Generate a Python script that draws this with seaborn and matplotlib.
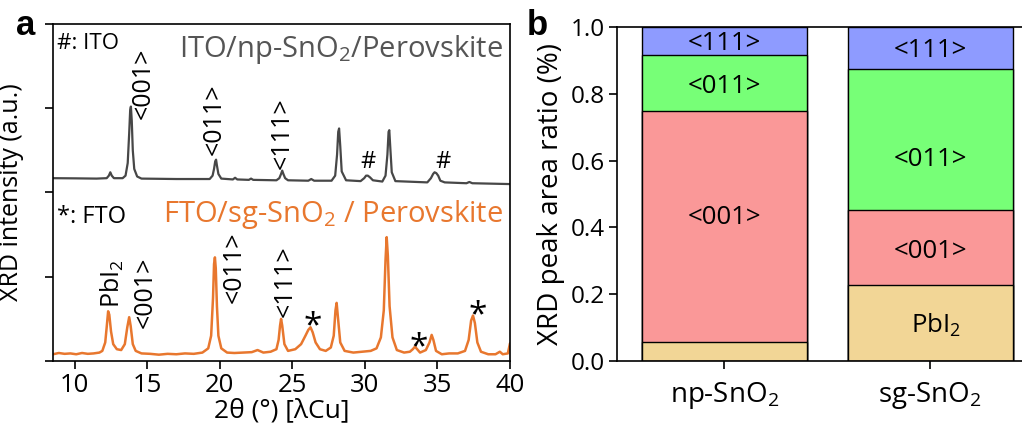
import numpy as np
import seaborn as sns
import matplotlib
matplotlib.use('Agg')
import matplotlib.pyplot as plt

# --- [1] XRD patterns (2theta in deg, stacked intensity in a.u.) ---
np_2theta = [8.5, 10.0, 11.5, 12.2, 12.35, 12.45, 12.55, 12.7, 13.3, 13.5, 13.65, 13.75, 13.82,
             13.87, 13.93, 14.0, 14.1, 14.3, 14.6, 17.0,
             19.3, 19.5, 19.6, 19.68, 19.74, 19.8, 19.9, 20.1, 20.9, 21.05, 21.2, 22.0, 22.15,
             22.3, 23.9, 24.1, 24.22, 24.3, 24.38, 24.5, 24.7, 26.1, 26.3, 26.5, 27.7, 27.95,
             28.08, 28.16, 28.22, 28.3, 28.4, 28.7, 29.7, 29.95, 30.08, 30.2, 30.35, 30.55,
             31.2, 31.42, 31.55, 31.63, 31.68, 31.76, 31.85, 32.1, 34.3, 34.55, 34.7, 34.8,
             34.92, 35.05, 35.2, 35.5, 37.0, 37.2, 37.4, 40.0]
np_intensity = [2.17, 2.168, 2.165, 2.17, 2.2, 2.24, 2.2, 2.17, 2.17, 2.2, 2.35, 2.7, 2.98,
                3.02, 2.85, 2.5, 2.28, 2.19, 2.165, 2.16,
                2.16, 2.2, 2.28, 2.37, 2.39, 2.32, 2.22, 2.165, 2.155, 2.175, 2.155, 2.15, 2.165,
                2.15, 2.145, 2.17, 2.22, 2.26, 2.22, 2.17, 2.145, 2.14, 2.16, 2.14, 2.14, 2.2,
                2.45, 2.72, 2.76, 2.55, 2.25, 2.145, 2.135, 2.17, 2.2, 2.2, 2.18, 2.145,
                2.13, 2.2, 2.45, 2.72, 2.74, 2.5, 2.24, 2.135, 2.12, 2.17, 2.22, 2.24,
                2.23, 2.2, 2.14, 2.12, 2.11, 2.125, 2.11, 2.10]

sg_2theta = [8.5, 8.9, 9.3, 9.7, 10.1, 10.5, 10.9, 11.3, 11.7, 11.9, 12.1, 12.2, 12.3, 12.38,
             12.5, 12.65, 12.9, 13.2, 13.45, 13.62, 13.75, 13.85, 14.0, 14.2, 14.6, 15.2, 15.8,
             16.4, 17.0, 17.6, 18.2, 18.8, 19.2, 19.4, 19.53, 19.6, 19.66, 19.72, 19.8, 19.9,
             20.1, 20.5, 21.0, 21.6, 22.2, 22.6, 23.0, 23.5, 23.9, 24.05, 24.15, 24.22, 24.3,
             24.45, 24.7, 25.2, 25.6, 25.9, 26.1, 26.25, 26.4, 26.6, 26.9, 27.3, 27.65, 27.85,
             27.97, 28.05, 28.15, 28.3, 28.6, 29.2, 29.8, 30.4, 30.8, 31.1, 31.3, 31.42, 31.5,
             31.58, 31.7, 31.9, 32.2, 32.7, 33.1, 33.3, 33.45, 33.6, 33.8, 34.2, 34.45, 34.6,
             34.72, 34.9, 35.3, 35.8, 36.4, 36.9, 37.15, 37.32, 37.45, 37.58, 37.75, 38.0,
             38.5, 39.0, 39.3, 39.5, 39.85, 40.0]
sg_intensity = [0.08, 0.095, 0.085, 0.09, 0.08, 0.095, 0.085, 0.09, 0.1, 0.12, 0.22, 0.4, 0.59, 0.55,
                0.35, 0.2, 0.14, 0.13, 0.2, 0.4, 0.52, 0.42, 0.2, 0.12, 0.09, 0.085, 0.075,
                0.085, 0.08, 0.09, 0.085, 0.1, 0.15, 0.3, 0.75, 1.15, 1.23, 1.1, 0.65, 0.3,
                0.15, 0.1, 0.095, 0.1, 0.105, 0.13, 0.1, 0.11, 0.14, 0.25, 0.42, 0.5, 0.42,
                0.2, 0.12, 0.14, 0.2, 0.3, 0.37, 0.4, 0.34, 0.22, 0.14, 0.12, 0.16, 0.3,
                0.6, 0.69, 0.5, 0.22, 0.12, 0.1, 0.11, 0.12, 0.15, 0.28, 0.6, 1.2, 1.47,
                1.25, 0.65, 0.28, 0.13, 0.1, 0.11, 0.14, 0.17, 0.14, 0.1, 0.13, 0.22, 0.31,
                0.25, 0.12, 0.08, 0.09, 0.09, 0.12, 0.25, 0.48, 0.54, 0.45, 0.22, 0.11,
                0.08, 0.08, 0.11, 0.08, 0.09, 0.21]

# --- [2] Peak area ratios ---
films = ['np-SnO2', 'sg-SnO2']
film_labels = ['np-SnO$_2$', 'sg-SnO$_2$']
phases = ['PbI$_2$', '<001>', '<011>', '<111>']
pbi2_ratio = [0.057, 0.227]
r001_ratio = [0.691, 0.226]
r011_ratio = [0.169, 0.420]
r111_ratio = [0.083, 0.127]
phase_colors = ['#F2D696', '#FA9898', '#77FF77', '#8E9BFF']

# --- [3] Style ---
sns.set_theme(style='ticks')
plt.rcParams['font.family'] = ['Open Sans', 'DejaVu Sans']
plt.rcParams['mathtext.fontset'] = 'custom'
plt.rcParams['mathtext.rm'] = 'Open Sans'
plt.rcParams['mathtext.default'] = 'regular'
for k in ['axes.edgecolor', 'xtick.color', 'ytick.color', 'axes.labelcolor', 'text.color']:
    plt.rcParams[k] = 'black'

fig = plt.figure(figsize=(10.22, 4.25), dpi=100)
ax1 = fig.add_axes([53 / 1022, 1 - 361 / 425, 457 / 1022, 337 / 425])
ax2 = fig.add_axes([617 / 1022, 1 - 361 / 425, 408 / 1022, 334 / 425])

# --- [4] Panel a: XRD patterns ---
sns.lineplot(x=np_2theta, y=np_intensity, ax=ax1, color='#474747', lw=1.6, sort=False)
sns.lineplot(x=sg_2theta, y=sg_intensity, ax=ax1, color='#E8772E', lw=1.8, sort=False)
ax1.set_xlim(8.5, 40)
ax1.set_ylim(0, 4)
ax1.set_xticks([10, 15, 20, 25, 30, 35, 40])
ax1.set_yticks([0, 1, 2, 3, 4])
ax1.set_yticklabels([])
ax1.set_xlabel('2θ (°) [λCu]', fontsize=19, labelpad=0)
ax1.set_ylabel('XRD intensity (a.u.)', fontsize=18, labelpad=12)
ax1.tick_params(direction='out', length=6, width=1.2, labelsize=18.5, pad=3)
for s in ax1.spines.values():
    s.set_linewidth(1.2)

ax1.text(8.76, 3.70, '#: ITO', fontsize=16)
ax1.text(39.5, 3.61, 'ITO/np-SnO$_2$/Perovskite', ha='right', fontsize=21, color='#555555')
ax1.text(8.76, 1.64, '*: FTO', fontsize=17)
ax1.text(39.5, 1.65, 'FTO/sg-SnO$_2$ / Perovskite', ha='right', fontsize=21, color='#E8772E')

rot = dict(rotation=90, ha='center', va='center', fontsize=18)
ax1.text(14.72, 3.30, '<001>', **rot)
ax1.text(19.59, 2.87, '<011>', **rot)
ax1.text(24.28, 2.70, '<111>', **rot)
ax1.text(12.62, 0.92, 'PbI$_2$', **rot)
ax1.text(14.83, 0.82, '<001>', **rot)
ax1.text(20.97, 1.11, '<011>', **rot)
ax1.text(24.5, 0.95, '<111>', **rot)
for x, y in [(30.2, 2.36), (35.4, 2.36)]:
    ax1.text(x, y, '#', ha='center', va='center', fontsize=17)
for x, y in [(26.4, 0.40), (33.7, 0.16), (37.8, 0.54)]:
    ax1.text(x, y, '*', ha='center', va='center', fontsize=24)

# --- [5] Panel b: stacked peak area ratio ---
layers = np.cumsum([pbi2_ratio, r001_ratio, r011_ratio, r111_ratio], axis=0)
for i in range(3, -1, -1):
    sns.barplot(x=films, y=layers[i], ax=ax2, color=phase_colors[i], saturation=1,
                edgecolor='black', linewidth=1.0, width=0.8)
ax2.set_xlim(-0.52, 1.46)
ax2.set_ylim(0, 1.0)
ax2.set_yticks([0, 0.2, 0.4, 0.6, 0.8, 1.0])
ax2.set_yticklabels(['0.0', '0.2', '0.4', '0.6', '0.8', '1.0'])
ax2.set_xticks([0, 1])
ax2.set_xticklabels(film_labels)
ax2.set_xlabel('')
ax2.set_ylabel('XRD peak area ratio (%)', fontsize=20, labelpad=4)
ax2.tick_params(direction='out', length=6, width=1.2, labelsize=17.5, pad=3)
ax2.tick_params(axis='x', labelsize=20, pad=8)
ax2.spines['right'].set_visible(False)
for s in ax2.spines.values():
    s.set_linewidth(1.2)

label_pos = {0: [(1, 0.43), (2, 0.822), (3, 0.95)],
             1: [(0, 0.107), (1, 0.329), (2, 0.603), (3, 0.93)]}
for j, items in label_pos.items():
    for i, y in items:
        ax2.text(j + (0.03 if i == 0 else 0), y, phases[i], ha='center', va='center', fontsize=18.5)

fig.text(16 / 1022, 1 - 35 / 425, 'a', fontsize=25, fontweight='bold', family='Liberation Sans')
fig.text(527 / 1022, 1 - 35 / 425, 'b', fontsize=25, fontweight='bold', family='Liberation Sans')

fig.savefig('out.png', dpi=100)
